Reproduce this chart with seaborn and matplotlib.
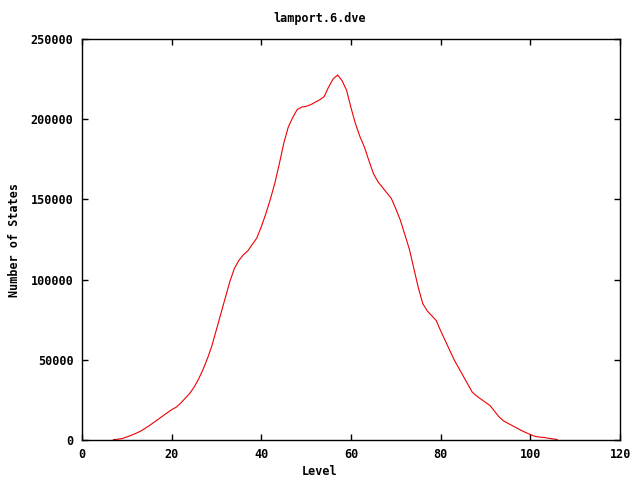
import matplotlib
matplotlib.use('Agg')
import matplotlib.pyplot as plt
import seaborn as sns
import pandas as pd

# values
levels = list(range(7, 107))
states = [
    300, 600, 1000, 2000, 3000, 4200, 5500, 7200, 9000, 11000,
    13000, 15000, 17000, 19000, 20500, 23000, 26000, 29000, 33000, 38000,
    44000, 51000, 59000, 69000, 79000, 89000, 99000, 107000, 112000, 115500,
    118000, 122000, 126000, 133000, 141000, 150000, 160000, 172000, 185000, 195000,
    201000, 206000, 207500, 208000, 209000, 210500, 212000, 214000, 220000, 225000,
    227500, 224000, 218000, 207000, 197000, 189000, 182500, 174000, 166000, 161000,
    157500, 154000, 150500, 144000, 137000, 128000, 119000, 107000, 95000, 85000,
    80500, 77500, 74500, 68000, 62000, 56000, 50000, 45000, 40000, 35000,
    30000, 27500, 25500, 23500, 21500, 18000, 14500, 12000, 10500, 9000,
    7500, 6000, 4700, 3500, 2400, 1900, 1700, 1200, 800, 400,
]
x_ticks = [0, 20, 40, 60, 80, 100, 120]
y_ticks = [0, 50000, 100000, 150000, 200000, 250000]

df = pd.DataFrame({'Level': levels, 'States': states})

sns.set_style('ticks')
plt.rcParams['font.family'] = ['DejaVu Sans Mono']
plt.rcParams['font.weight'] = 'bold'
plt.rcParams['font.size'] = 8.5
plt.rcParams['text.color'] = 'black'
plt.rcParams['xtick.color'] = 'black'
plt.rcParams['ytick.color'] = 'black'

fig = plt.figure(figsize=(6.4, 4.8), dpi=100)
ax = fig.add_axes([0.128, 0.083, 0.841, 0.836])

sns.lineplot(data=df, x='Level', y='States', color='#ee0000', linewidth=0.8, ax=ax)

ax.set_xlim(0, 120)
ax.set_ylim(0, 250000)
ax.set_xticks(x_ticks)
ax.set_yticks(y_ticks)
ax.set_xticklabels([str(v) for v in x_ticks], fontweight='bold')
ax.set_yticklabels([str(v) for v in y_ticks], fontweight='bold')
ax.tick_params(direction='in', top=True, right=True, length=4, width=1, pad=6,
               colors='black')
for s in ax.spines.values():
    s.set_visible(True)
    s.set_linewidth(1)
    s.set_color('black')

ax.set_xlabel('')
ax.set_ylabel('')
fig.text(0.5, 0.962, 'lamport.6.dve', ha='center', va='center', fontweight='bold')
fig.text(0.5, 0.017, 'Level', ha='center', va='center', fontweight='bold')
fig.text(0.022, 0.5, 'Number of States', ha='center', va='center', rotation=90, fontweight='bold')

fig.savefig('out.png', dpi=100)
